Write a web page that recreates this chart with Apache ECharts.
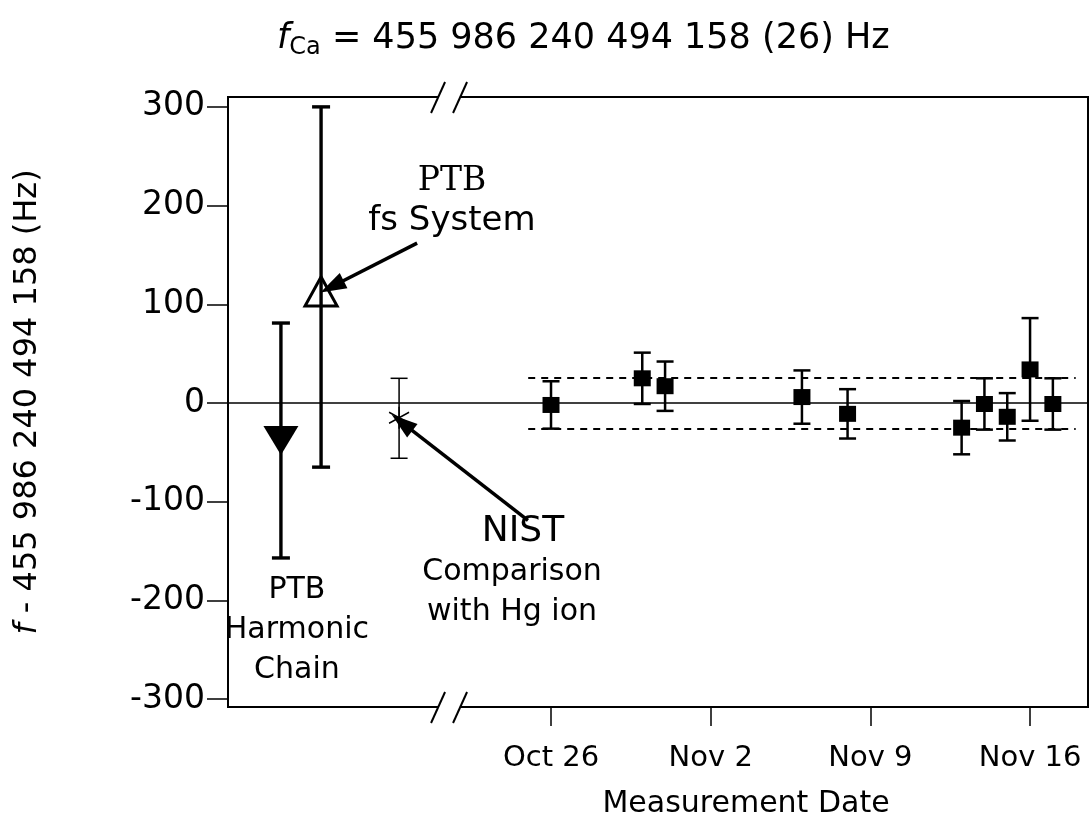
<!DOCTYPE html>
<html><head><meta charset="utf-8">
<script src="https://cdn.jsdelivr.net/npm/echarts@6/dist/echarts.min.js"></script>
<style>html,body{margin:0;padding:0;background:#fff}#c{width:1089px;height:816px}</style>
</head><body><div id="c"></div><script>
// ---- data ----
const dates = ['2000-10-26','2000-10-30','2000-10-31','2000-11-06','2000-11-08','2000-11-13','2000-11-14','2000-11-15','2000-11-16','2000-11-17'];
const values = [-2, 25, 17, 6, -11, -25, -1, -14, 34, -1];
const errors = [24, 26, 25, 27, 25, 27, 26, 24, 52, 26];
const refNames = ['PTB Harmonic Chain', 'PTB fs System', 'NIST Comparison with Hg ion'];
const refSlots = [-11.84, -10.08, -6.66];   // positions (days) in the left, broken-off part of the axis
const refValues = [-38, 113, -15];
const refLow = [-157, -65, -56];
const refHigh = [81, 300, 25];
const meanUnc = 26;
const bandDates = ['2000-10-25', '2000-11-18'];
const tickDates = ['2000-10-26', '2000-11-02', '2000-11-09', '2000-11-16'];
const tickLabels = ['Oct 26', 'Nov 2', 'Nov 9', 'Nov 16'];
const yTicks = [-300, -200, -100, 0, 100, 200, 300];
const breakAt = -4.47;
const xMin = -14.16, xMax = 23.54, yMin = -308, yMax = 310;

// ---- helpers ----
const ORIGIN = Date.parse('2000-10-26');
const day = d => Math.round((Date.parse(d) - ORIGIN) / 86400000);
const dayX = dates.map(day);
const tickX = tickDates.map(day);
const FONT = 'DejaVu Sans';

function makeErrRender(capW, lw) {
  return function (params, api) {
    const x = api.value(0), lo = api.value(1), hi = api.value(2);
    const a = api.coord([x, lo]), b = api.coord([x, hi]);
    const style = { stroke: '#000', lineWidth: lw, fill: null };
    return { type: 'group', children: [
      { type: 'line', shape: { x1: a[0], y1: a[1], x2: b[0], y2: b[1] }, style },
      { type: 'line', shape: { x1: a[0] - capW / 2, y1: a[1], x2: a[0] + capW / 2, y2: a[1] }, style },
      { type: 'line', shape: { x1: b[0] - capW / 2, y1: b[1], x2: b[0] + capW / 2, y2: b[1] }, style }
    ]};
  };
}
function breakRender(params, api) {
  const x = api.value(0);
  const kids = [];
  [yMax, yMin].forEach(v => {
    const p = api.coord([x, v]);
    kids.push({ type: 'rect', shape: { x: p[0] - 11, y: p[1] - 4, width: 22, height: 8 }, style: { fill: '#fff' } });
    kids.push({ type: 'line', shape: { x1: p[0] - 18, y1: p[1] + 16, x2: p[0] - 4, y2: p[1] - 15 }, style: { stroke: '#000', lineWidth: 2 } });
    kids.push({ type: 'line', shape: { x1: p[0] + 4, y1: p[1] + 16, x2: p[0] + 18, y2: p[1] - 15 }, style: { stroke: '#000', lineWidth: 2 } });
  });
  return { type: 'group', children: kids };
}

const chart = echarts.init(document.getElementById('c'), null, { renderer: 'canvas' });
const option = {
  animation: false,
  backgroundColor: '#fff',
  title: [{
    text: '{i|f}{sub|Ca}{n| = 455 986 240 494 158 (26) Hz}',
    left: 272, top: 13,
    textStyle: { fontWeight: 'normal', rich: {
      i: { fontFamily: FONT, fontStyle: 'italic', fontWeight: 'normal', fontSize: 35, color: '#000' },
      sub: { fontFamily: FONT, fontWeight: 'normal', fontSize: 24, color: '#000', padding: [18, 0, 0, 0] },
      n: { fontFamily: FONT, fontWeight: 'normal', fontSize: 35, color: '#000' }
    }}
  }, {
    text: 'Measurement Date', left: 741, top: 784, textAlign: 'center',
    textStyle: { fontFamily: FONT, fontSize: 30, fontWeight: 'normal', color: '#000' }
  }],
  grid: { left: 228, top: 97, width: 860, height: 610, show: true, borderColor: '#000', borderWidth: 2, backgroundColor: 'transparent' },
  xAxis: {
    type: 'value', min: xMin, max: xMax,
    axisLine: { show: false, onZero: false },
    splitLine: { show: false },
    axisTick: { show: true, inside: false, length: 19, customValues: tickX, lineStyle: { color: '#000', width: 1.5 } },
    axisLabel: { customValues: tickX, margin: 37, fontFamily: FONT, fontSize: 29, color: '#000',
      formatter: v => tickLabels[tickX.indexOf(Math.round(v))] || '' }
  },
  yAxis: {
    type: 'value', min: yMin, max: yMax,
    name: '{i|f}{n| - 455 986 240 494 158 (Hz)}',
    nameLocation: 'middle', nameGap: 184, nameRotate: 90,
    nameTextStyle: { rich: {
      i: { fontFamily: FONT, fontStyle: 'italic', fontSize: 32, color: '#000' },
      n: { fontFamily: FONT, fontSize: 32, color: '#000' }
    }},
    axisLine: { show: false, onZero: false },
    splitLine: { show: false },
    axisTick: { show: true, inside: false, length: 21, customValues: yTicks, lineStyle: { color: '#000', width: 1.5 } },
    axisLabel: { customValues: yTicks, margin: 23, fontFamily: FONT, fontSize: 33, color: '#000' }
  },
  series: [
    { // reference lines
      type: 'line', data: [], silent: true,
      markLine: { silent: true, symbol: ['none', 'none'], label: { show: false },
        data: [
          [{ yAxis: 0, x: 228, lineStyle: { type: 'solid', width: 1.6, color: '#000' } }, { yAxis: 0, x: 1088 }],
          [{ coord: [day(bandDates[0]), meanUnc], lineStyle: { type: [7, 6], width: 2, color: '#000' } }, { coord: [day(bandDates[1]), meanUnc] }],
          [{ coord: [day(bandDates[0]), -meanUnc], lineStyle: { type: [7, 6], width: 2, color: '#000' } }, { coord: [day(bandDates[1]), -meanUnc] }]
        ] }
    },
    { type: 'custom', name: 'PTB bars', renderItem: makeErrRender(18, 3.4), silent: true,
      data: [0, 1].map(i => [refSlots[i], refLow[i], refHigh[i]]) },
    { type: 'custom', name: 'NIST bar', renderItem: makeErrRender(17, 1.5), silent: true,
      data: [[refSlots[2], refLow[2], refHigh[2]]] },
    { type: 'custom', name: 'date bars', renderItem: makeErrRender(17, 2.5), silent: true,
      data: dayX.map((x, i) => [x, values[i] - errors[i], values[i] + errors[i]]) },
    { type: 'scatter', name: refNames[0], silent: true, symbol: 'triangle', symbolRotate: 180, symbolSize: [35, 29],
      itemStyle: { color: '#000', opacity: 1 }, data: [[refSlots[0], refValues[0]]] },
    { type: 'scatter', name: refNames[1], silent: true, symbol: 'triangle', symbolSize: [32, 29],
      itemStyle: { color: 'rgba(0,0,0,0)', borderColor: '#000', borderWidth: 3, opacity: 1 }, data: [[refSlots[1], refValues[1]]] },
    { type: 'scatter', name: refNames[2], silent: true,
      symbol: 'path://M10,0 L10,20 M1.34,5 L18.66,15 M1.34,15 L18.66,5', symbolSize: [20, 22],
      itemStyle: { color: 'rgba(0,0,0,0)', borderColor: '#000', borderWidth: 1.5, opacity: 1 }, data: [[refSlots[2], refValues[2]]] },
    { type: 'scatter', name: 'Ca measurements', silent: true, symbol: 'rect', symbolSize: [17, 16],
      itemStyle: { color: '#000', opacity: 1 }, data: dayX.map((x, i) => [x, values[i]]) },
    { type: 'custom', name: 'axis break', renderItem: breakRender, silent: true, clip: false, z: 5, data: [[breakAt, 0]] },
    { // annotations
      type: 'scatter', silent: true, symbolSize: 0, z: 6,
      itemStyle: { opacity: 1 },
      data: [
        { value: [-4.34, 204], label: { formatter: '{s|PTB}\n{f|fs System}' } },
        { value: [-1.71, -171], label: { formatter: '{b|NIST}\n{n|Comparison}\n{n|with Hg ion}' } },
        { value: [-11.14, -230], label: { formatter: '{n|PTB}\n{n|Harmonic}\n{n|Chain}' } }
      ],
      label: { show: true, position: 'inside', align: 'center', verticalAlign: 'middle', color: '#000',
        rich: {
          s: { fontFamily: 'DejaVu Serif', fontSize: 33, lineHeight: 40, color: '#000' },
          f: { fontFamily: FONT, fontSize: 34, lineHeight: 40, color: '#000' },
          b: { fontFamily: FONT, fontSize: 36, lineHeight: 40, color: '#000', padding: [0, 0, 0, 22] },
          n: { fontFamily: FONT, fontSize: 30, lineHeight: 40, color: '#000' }
        } },
      markLine: { silent: true, symbol: ['none', 'triangle'], symbolSize: [17, 26], label: { show: false },
        lineStyle: { type: 'solid', width: 3.5, color: '#000', opacity: 1 },
        data: [
          [{ coord: [-5.87, 162] }, { coord: [-9.60, 118] }],
          [{ coord: [-1.01, -119] }, { coord: [-6.53, -20] }]
        ] }
    }
  ]
};
chart.setOption(option);
</script></body></html>
